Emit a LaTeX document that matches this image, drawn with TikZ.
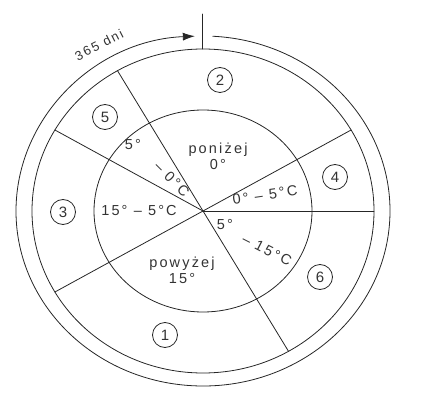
\documentclass[tikz,border=0pt]{standalone}
\usepackage{fontspec}
\setmainfont{Liberation Sans}
\newfontfamily\lblfont[LetterSpace=15]{Liberation Sans}
\usetikzlibrary{arrows.meta,calc}
\begin{document}
\begin{tikzpicture}[x=1pt,y=1pt,line cap=round,line join=round,>={Latex[length=12pt,width=8pt]},font=\lblfont\fontsize{14.5}{16}\selectfont]
			\tikzset{ring style/.style={line width=0.8pt,draw=black!85},
				num style/.style={draw=black!85,circle,line width=0.8pt,minimum size=25pt,inner sep=0pt,text=black!80,font=\lblfont\fontsize{15}{15}\selectfont},
				zone style/.style={text=black!80,inner sep=0.5pt,align=center}}
			\useasboundingbox (0,0) rectangle (435,396);
			\coordinate (o) at (203,185);
			\draw[ring style] (o) ellipse [x radius=109pt, y radius=101pt];
			\draw[ring style] (o) ellipse [x radius=171pt, y radius=162pt];
			\foreach \a in {0,30,120,150,210,300}
				\draw[ring style] (o) -- ($(o)+(\a:171pt and 162pt)$);
			\coordinate (tickbot) at ($(o)+(-1,162)$);
			\coordinate (ticktop) at ($(o)+(-1,197)$);
			\draw[ring style] (tickbot) -- (ticktop);
			\coordinate (arcstart) at ($(o)+(87:187pt and 175pt)$);
			\draw[ring style,->] (arcstart) arc[start angle=87, end angle=-267.5, x radius=187pt, y radius=175pt];
			\node[zone style,rotate=27,font=\lblfont\fontsize{13}{14}\selectfont] (days) at ($(o)+(-104,166)$) {365 dni};
			\node[num style] (n2) at ($(o)+(17,131)$) {2};
			\node[num style] (n5) at ($(o)+(-98,94)$) {5};
			\node[num style] (n3) at ($(o)+(-140,-1)$) {3};
			\node[num style] (n1) at ($(o)+(-38,-124)$) {1};
			\node[num style] (n6) at ($(o)+(117,-66)$) {6};
			\node[num style] (n4) at ($(o)+(132,34)$) {4};
			\node[zone style] (below) at ($(o)+(15,55)$) {poniżej\\0°};
			\node[zone style] (late1) at ($(o)+(-70,66)$) {5°};
			\node[zone style,rotate=-45] (late2) at ($(o)+(-31,32)$) {– 0°C};
			\node[zone style,rotate=8] (spring) at ($(o)+(62,16)$) {0° – 5°C};
			\node[zone style] (autumn) at ($(o)+(-64,0)$) {15° – 5°C};
			\node[zone style] (warm1) at ($(o)+(22,-14)$) {5°};
			\node[zone style,rotate=-27] (warm2) at ($(o)+(64,-39)$) {– 15°C};
			\node[zone style] (above) at ($(o)+(-21,-59)$) {powyżej\\15°};

		\end{tikzpicture}
\end{document}
